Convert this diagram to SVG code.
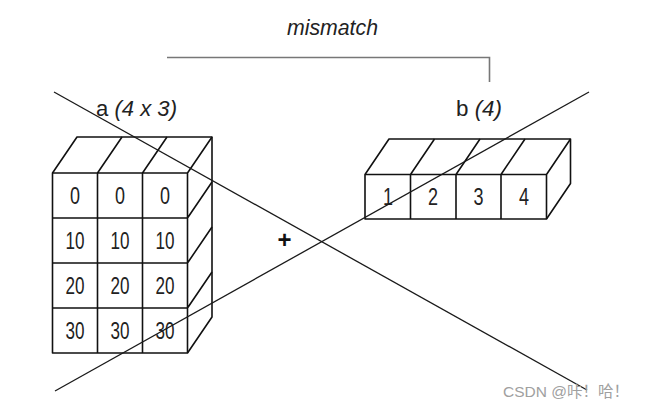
<svg xmlns="http://www.w3.org/2000/svg" width="645" height="412" viewBox="0 0 645 412">
<style>
.box{fill:#fff;stroke:#111;stroke-width:1.6;stroke-linejoin:round}
.edge{fill:none;stroke:#111;stroke-width:1.6}
.num{font-family:"Liberation Sans",Arial,sans-serif;font-size:23px;fill:#222;text-anchor:middle}
.lbl{font-family:"Liberation Sans",Arial,sans-serif;font-size:22px;fill:#222}
.cross{stroke:#1a1a1a;stroke-width:1.3;fill:none}
</style>
<rect width="645" height="412" fill="#fff"/>
<g id="title">
<text class="lbl" x="287" y="35" font-style="italic" textLength="91" lengthAdjust="spacingAndGlyphs">mismatch</text>
</g>
<g id="array-a">
<path class="box" d="M52.5,173 L77,137 L212,137 L212,317 L187.5,353 L52.5,353 Z"/>
<path class="edge" d="M52.5,173 H187.5 V353 M97.5,173 V353 M142.5,173 V353 M52.5,218 H187.5 M52.5,263 H187.5 M52.5,308 H187.5 M97.5,173 L122,137 M142.5,173 L167,137 M187.5,173 L212,137 M187.5,218 L212,182 M187.5,263 L212,227 M187.5,308 L212,272"/>
<text class="lbl" x="96" y="116" textLength="81" lengthAdjust="spacingAndGlyphs">a <tspan font-style="italic">(4 x 3)</tspan></text>
<text class="num" x="75" y="203.5" textLength="10" lengthAdjust="spacingAndGlyphs">0</text>
<text class="num" x="120" y="203.5" textLength="10" lengthAdjust="spacingAndGlyphs">0</text>
<text class="num" x="165" y="203.5" textLength="10" lengthAdjust="spacingAndGlyphs">0</text>
<text class="num" x="75" y="248.5" textLength="19" lengthAdjust="spacingAndGlyphs">10</text>
<text class="num" x="120" y="248.5" textLength="19" lengthAdjust="spacingAndGlyphs">10</text>
<text class="num" x="165" y="248.5" textLength="19" lengthAdjust="spacingAndGlyphs">10</text>
<text class="num" x="75" y="293.5" textLength="19" lengthAdjust="spacingAndGlyphs">20</text>
<text class="num" x="120" y="293.5" textLength="19" lengthAdjust="spacingAndGlyphs">20</text>
<text class="num" x="165" y="293.5" textLength="19" lengthAdjust="spacingAndGlyphs">20</text>
<text class="num" x="75" y="338.5" textLength="19" lengthAdjust="spacingAndGlyphs">30</text>
<text class="num" x="120" y="338.5" textLength="19" lengthAdjust="spacingAndGlyphs">30</text>
<text class="num" x="165" y="338.5" textLength="19" lengthAdjust="spacingAndGlyphs">30</text>
</g>
<g id="plus">
<text x="284.5" y="248" font-family="Liberation Sans,Arial,sans-serif" font-size="24" font-weight="bold" text-anchor="middle" fill="#111">+</text>
</g>
<g id="array-b">
<path class="box" d="M365,174.5 L389,139 L570.5,139 L570.5,183.5 L546.5,219 L365,219 Z"/>
<path class="edge" d="M365,174.5 H546.5 V219 M410.5,174.5 V219 M456,174.5 V219 M501,174.5 V219 M410.5,174.5 L434.5,139 M456,174.5 L480,139 M501,174.5 L525,139 M546.5,174.5 L570.5,139"/>
<text class="lbl" x="456" y="116" textLength="46" lengthAdjust="spacingAndGlyphs">b <tspan font-style="italic">(4)</tspan></text>
<text class="num" x="388" y="204.5" textLength="10" lengthAdjust="spacingAndGlyphs">1</text>
<text class="num" x="433" y="204.5" textLength="10" lengthAdjust="spacingAndGlyphs">2</text>
<text class="num" x="478.5" y="204.5" textLength="10" lengthAdjust="spacingAndGlyphs">3</text>
<text class="num" x="524" y="204.5" textLength="10" lengthAdjust="spacingAndGlyphs">4</text>
</g>
<g id="connectors">
<path d="M167,57.5 H489.5 V82" fill="none" stroke="#777" stroke-width="1.6"/>
<line class="cross" x1="54" y1="92" x2="587" y2="390"/>
<line class="cross" x1="55" y1="391" x2="589" y2="92"/>
</g>
<g id="watermark">
<text x="503" y="397" font-family="Liberation Sans,Noto Sans CJK SC,sans-serif" font-size="15.5" fill="#a0a0a0">CSDN @咔！哈！</text>
</g>
</svg>
